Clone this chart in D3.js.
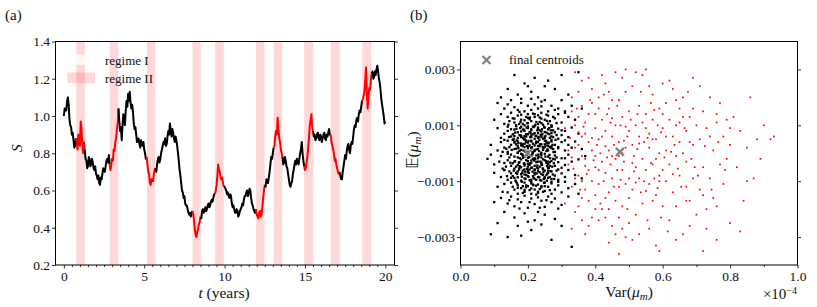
<!DOCTYPE html>
<html>
<head>
<meta charset="utf-8">
<script src="https://cdn.jsdelivr.net/npm/d3@7"></script>
<style>
  body { margin: 0; background: #fff; }
  svg text { fill: #111; }
</style>
</head>
<body>
<svg id="fig" width="817" height="307"></svg>
<script>
/// data ///
// regime II windows (years)
const regimeBands = [[0.77,1.31],[2.85,3.39],[5.17,5.69],[8.0,8.52],[9.41,9.95],
  [11.95,12.49],[13.05,13.59],[14.95,15.51],[16.6,17.16],[18.57,19.13]];

// price path S(t), [t, S]
const pricePath = [
  [0.0,1.00],[0.05,1.04],[0.1,1.03],[0.15,1.03],[0.2,1.08],[0.25,1.10],[0.3,1.06],[0.35,0.98],[0.4,0.95],[0.45,0.94],
  [0.5,0.90],[0.55,0.91],[0.6,0.87],[0.65,0.83],[0.7,0.84],[0.75,0.88],[0.8,0.86],[0.85,0.82],[0.9,0.90],[0.95,0.86],
  [1.0,0.84],[1.05,0.97],[1.1,0.93],[1.15,0.84],[1.2,0.80],[1.25,0.86],[1.3,0.82],[1.35,0.77],[1.4,0.76],[1.45,0.72],
  [1.5,0.73],[1.55,0.78],[1.6,0.77],[1.65,0.73],[1.7,0.74],[1.75,0.77],[1.8,0.75],[1.85,0.72],[1.9,0.71],[1.95,0.73],
  [2.0,0.69],[2.05,0.68],[2.1,0.66],[2.15,0.68],[2.2,0.64],[2.25,0.63],[2.3,0.67],[2.35,0.66],[2.4,0.69],[2.45,0.72],
  [2.5,0.71],[2.55,0.70],[2.6,0.73],[2.65,0.76],[2.7,0.77],[2.75,0.75],[2.8,0.79],[2.85,0.74],[2.9,0.71],[2.95,0.74],
  [3.0,0.77],[3.05,0.76],[3.1,0.82],[3.15,0.81],[3.2,0.86],[3.25,0.88],[3.3,0.93],[3.35,0.96],[3.4,1.04],[3.45,0.97],
  [3.5,0.92],[3.55,0.94],[3.6,0.87],[3.65,0.95],[3.7,1.01],[3.75,0.97],[3.8,0.95],[3.85,1.03],[3.9,1.08],[3.95,1.05],
  [4.0,1.12],[4.05,1.08],[4.1,1.13],[4.15,1.07],[4.2,1.04],[4.25,1.06],[4.3,1.02],[4.35,0.96],[4.4,0.93],[4.45,0.94],
  [4.5,0.90],[4.55,0.86],[4.6,0.87],[4.65,0.88],[4.7,0.85],[4.75,0.83],[4.8,0.87],[4.85,0.85],[4.9,0.84],[4.95,0.86],
  [5.0,0.82],[5.05,0.80],[5.1,0.77],[5.15,0.78],[5.2,0.74],[5.25,0.70],[5.3,0.69],[5.35,0.64],[5.4,0.63],[5.45,0.66],
  [5.5,0.66],[5.55,0.65],[5.6,0.69],[5.65,0.71],[5.7,0.72],[5.75,0.70],[5.8,0.74],[5.85,0.77],[5.9,0.78],[5.95,0.75],
  [6.0,0.77],[6.05,0.80],[6.1,0.82],[6.15,0.84],[6.2,0.86],[6.25,0.85],[6.3,0.88],[6.35,0.84],[6.4,0.85],[6.45,0.89],
  [6.5,0.92],[6.55,0.90],[6.6,0.96],[6.65,0.92],[6.7,0.89],[6.75,0.93],[6.8,0.91],[6.85,0.88],[6.9,0.86],[6.95,0.89],
  [7.0,0.87],[7.05,0.84],[7.1,0.80],[7.15,0.76],[7.2,0.71],[7.25,0.68],[7.3,0.64],[7.35,0.60],[7.4,0.59],[7.45,0.56],
  [7.5,0.57],[7.55,0.53],[7.6,0.52],[7.65,0.52],[7.7,0.50],[7.75,0.48],[7.8,0.47],[7.85,0.48],[7.9,0.46],[7.95,0.48],
  [8.0,0.49],[8.05,0.47],[8.1,0.44],[8.15,0.39],[8.2,0.36],[8.25,0.35],[8.3,0.38],[8.35,0.39],[8.4,0.42],[8.45,0.43],
  [8.5,0.46],[8.55,0.45],[8.6,0.49],[8.65,0.50],[8.7,0.48],[8.75,0.49],[8.8,0.51],[8.85,0.49],[8.9,0.50],[8.95,0.52],
  [9.0,0.53],[9.05,0.51],[9.1,0.52],[9.15,0.54],[9.2,0.55],[9.25,0.54],[9.3,0.56],[9.35,0.58],[9.4,0.58],[9.45,0.60],
  [9.5,0.63],[9.55,0.68],[9.6,0.74],[9.65,0.71],[9.7,0.70],[9.75,0.67],[9.8,0.66],[9.85,0.67],[9.9,0.64],[9.95,0.62],
  [10.0,0.62],[10.05,0.61],[10.1,0.60],[10.15,0.58],[10.2,0.59],[10.25,0.57],[10.3,0.56],[10.35,0.58],[10.4,0.57],[10.45,0.53],
  [10.5,0.51],[10.55,0.52],[10.6,0.50],[10.65,0.48],[10.7,0.48],[10.75,0.50],[10.8,0.49],[10.85,0.46],[10.9,0.47],[10.95,0.49],
  [11.0,0.50],[11.05,0.51],[11.1,0.53],[11.15,0.52],[11.2,0.55],[11.25,0.57],[11.3,0.57],[11.35,0.59],[11.4,0.60],[11.45,0.57],
  [11.5,0.58],[11.55,0.61],[11.6,0.60],[11.65,0.56],[11.7,0.53],[11.75,0.52],[11.8,0.50],[11.85,0.49],[11.9,0.48],[11.95,0.50],
  [12.0,0.47],[12.05,0.46],[12.1,0.45],[12.15,0.48],[12.2,0.49],[12.25,0.46],[12.3,0.47],[12.35,0.51],[12.4,0.56],[12.45,0.60],
  [12.5,0.63],[12.55,0.62],[12.6,0.66],[12.65,0.65],[12.7,0.64],[12.75,0.67],[12.8,0.70],[12.85,0.74],[12.9,0.78],[12.95,0.77],
  [13.0,0.80],[13.05,0.83],[13.1,0.84],[13.15,0.89],[13.2,0.92],[13.25,0.90],[13.3,0.99],[13.35,0.93],[13.4,0.88],[13.45,0.86],
  [13.5,0.82],[13.55,0.80],[13.6,0.78],[13.65,0.74],[13.7,0.75],[13.75,0.78],[13.8,0.76],[13.85,0.73],[13.9,0.72],[13.95,0.69],
  [14.0,0.66],[14.05,0.63],[14.1,0.62],[14.15,0.64],[14.2,0.65],[14.25,0.69],[14.3,0.71],[14.35,0.74],[14.4,0.76],[14.45,0.74],
  [14.5,0.77],[14.55,0.75],[14.6,0.74],[14.65,0.77],[14.7,0.80],[14.75,0.82],[14.8,0.86],[14.85,0.80],[14.9,0.76],[14.95,0.73],
  [15.0,0.71],[15.05,0.72],[15.1,0.75],[15.15,0.78],[15.2,0.83],[15.25,0.88],[15.3,0.95],[15.35,0.98],[15.4,1.01],[15.45,0.94],
  [15.5,0.92],[15.55,0.89],[15.6,0.90],[15.65,0.87],[15.7,0.88],[15.75,0.90],[15.8,0.91],[15.85,0.88],[15.9,0.87],[15.95,0.90],
  [16.0,0.89],[16.05,0.86],[16.1,0.88],[16.15,0.90],[16.2,0.91],[16.25,0.88],[16.3,0.87],[16.35,0.90],[16.4,0.89],[16.45,0.91],
  [16.5,0.93],[16.55,0.90],[16.6,0.90],[16.65,0.86],[16.7,0.84],[16.75,0.82],[16.8,0.80],[16.85,0.76],[16.9,0.77],[16.95,0.74],
  [17.0,0.72],[17.05,0.70],[17.1,0.69],[17.15,0.70],[17.2,0.68],[17.25,0.66],[17.3,0.66],[17.35,0.70],[17.4,0.73],[17.45,0.76],
  [17.5,0.79],[17.55,0.77],[17.6,0.81],[17.65,0.84],[17.7,0.85],[17.75,0.82],[17.8,0.80],[17.85,0.84],[17.9,0.86],[17.95,0.85],
  [18.0,0.89],[18.05,0.93],[18.1,0.95],[18.15,0.94],[18.2,0.98],[18.25,0.99],[18.3,0.97],[18.35,1.01],[18.4,1.03],[18.45,1.02],
  [18.5,1.05],[18.55,1.08],[18.6,1.09],[18.65,1.11],[18.7,1.13],[18.75,1.19],[18.8,1.26],[18.85,1.12],[18.9,1.04],[18.95,1.10],
  [19.0,1.15],[19.05,1.14],[19.1,1.19],[19.15,1.23],[19.2,1.24],[19.25,1.20],[19.3,1.21],[19.35,1.24],[19.4,1.22],[19.45,1.25],
  [19.5,1.27],[19.55,1.24],[19.6,1.20],[19.65,1.18],[19.7,1.14],[19.75,1.09],[19.8,1.06],[19.85,1.03],[19.9,1.00],[19.95,0.96],
  [20.0,0.97]
];

// panel (b): [Var (x1e-4), mean (x1e-3)] per window, cluster I (black)
const clusterOne = [
  [0.16,2.8],[0.22,2.7],[0.30,2.8],[0.19,2.5],[0.25,2.4],[0.14,2.3],[0.21,2.2],[0.28,2.3],[0.17,2.1],[0.23,2.0],[0.32,2.1],[0.12,2.0],[0.26,2.6],[0.20,2.4],[0.35,2.9],
  [0.15,1.9],[0.18,1.8],[0.21,1.95],[0.24,1.85],[0.27,1.7],[0.30,1.9],[0.13,1.6],[0.17,1.55],[0.20,1.7],[0.23,1.6],[0.26,1.5],[0.29,1.6],[0.33,1.7],[0.11,1.8],[0.19,1.5],[0.22,1.75],[0.16,1.65],[0.25,1.9],[0.28,1.55],[0.14,1.75],[0.31,1.5],[0.21,1.55],[0.18,1.95],[0.24,1.68],[0.36,1.6],
  [0.12,1.4],[0.14,1.3],[0.15,1.45],[0.16,1.1],[0.17,1.35],[0.18,1.2],[0.19,1.0],[0.20,1.4],[0.21,1.15],[0.22,1.3],[0.23,1.05],[0.24,1.45],[0.25,1.2],[0.26,1.35],[0.27,1.0],[0.28,1.25],[0.29,1.4],[0.30,1.1],[0.32,1.3],[0.34,1.2],[0.10,1.2],[0.13,1.05],[0.155,1.25],[0.175,1.48],[0.185,1.05],[0.195,1.3],[0.205,1.22],[0.215,1.42],[0.225,1.12],[0.235,1.28],[0.245,1.02],[0.255,1.38],[0.265,1.15],[0.275,1.3],[0.285,1.08],[0.31,1.45],[0.165,1.0],[0.145,1.15],[0.2,1.08],[0.23,1.36],
  [0.11,0.9],[0.13,0.7],[0.14,0.95],[0.15,0.6],[0.16,0.85],[0.17,0.55],[0.17,0.75],[0.18,0.95],[0.18,0.62],[0.19,0.8],[0.19,0.52],[0.20,0.9],[0.20,0.68],[0.21,0.58],[0.21,0.82],[0.22,0.98],[0.22,0.72],[0.23,0.55],[0.23,0.88],[0.24,0.65],[0.24,0.78],[0.25,0.92],[0.25,0.58],[0.26,0.7],[0.26,0.85],[0.27,0.6],[0.27,0.95],[0.28,0.75],[0.29,0.52],[0.29,0.88],[0.30,0.65],[0.31,0.8],[0.32,0.58],[0.33,0.92],[0.35,0.7],[0.12,0.55],[0.14,0.8],[0.155,0.68],[0.165,0.98],[0.175,0.65],[0.185,0.85],[0.195,0.6],[0.205,0.76],[0.215,0.95],[0.225,0.62],[0.235,0.82],[0.245,0.52],[0.255,0.74],[0.265,0.55],[0.275,0.82],[0.285,0.65],
  [0.09,0.3],[0.11,0.1],[0.12,0.4],[0.13,0.2],[0.14,0.45],[0.14,0.05],[0.15,0.3],[0.16,0.15],[0.16,0.42],[0.17,0.25],[0.17,0.02],[0.18,0.35],[0.18,0.12],[0.19,0.48],[0.19,0.22],[0.20,0.05],[0.20,0.38],[0.21,0.18],[0.21,0.45],[0.22,0.28],[0.22,0.08],[0.23,0.4],[0.23,0.15],[0.24,0.32],[0.24,0.02],[0.25,0.45],[0.25,0.22],[0.26,0.1],[0.26,0.35],[0.27,0.25],[0.27,0.48],[0.28,0.05],[0.28,0.3],[0.29,0.18],[0.30,0.4],[0.31,0.1],[0.32,0.3],[0.33,0.2],[0.34,0.42],[0.36,0.15],[0.155,0.48],[0.165,0.32],[0.175,0.08],[0.185,0.25],[0.195,0.4],[0.205,0.28],[0.215,0.02],[0.225,0.42],[0.235,0.25],[0.245,0.12],[0.255,0.38],[0.265,0.22],[0.275,0.15],[0.145,0.22],[0.125,0.05],
  [0.08,-0.2],[0.10,-0.4],[0.12,-0.1],[0.13,-0.35],[0.14,-0.25],[0.15,-0.45],[0.15,-0.05],[0.16,-0.3],[0.17,-0.15],[0.17,-0.42],[0.18,-0.22],[0.18,-0.02],[0.19,-0.38],[0.19,-0.12],[0.20,-0.28],[0.20,-0.48],[0.21,-0.08],[0.21,-0.35],[0.22,-0.18],[0.22,-0.45],[0.23,-0.05],[0.23,-0.3],[0.24,-0.15],[0.24,-0.4],[0.25,-0.25],[0.25,-0.02],[0.26,-0.38],[0.26,-0.12],[0.27,-0.28],[0.28,-0.45],[0.28,-0.08],[0.29,-0.32],[0.30,-0.18],[0.31,-0.42],[0.32,-0.05],[0.33,-0.3],[0.35,-0.22],[0.37,-0.1],[0.165,-0.48],[0.175,-0.32],[0.185,-0.1],[0.195,-0.25],[0.205,-0.42],[0.215,-0.2],[0.225,-0.32],[0.235,-0.48],[0.245,-0.22],[0.255,-0.35],[0.265,-0.45],[0.275,-0.2],[0.285,-0.15],[0.145,-0.15],[0.135,-0.48],[0.115,-0.3],[0.09,-0.05],
  [0.10,-0.7],[0.12,-0.85],[0.13,-0.6],[0.14,-0.95],[0.15,-0.72],[0.16,-0.55],[0.16,-0.88],[0.17,-0.65],[0.18,-0.98],[0.18,-0.75],[0.19,-0.58],[0.19,-0.9],[0.20,-0.68],[0.20,-0.82],[0.21,-0.52],[0.21,-0.95],[0.22,-0.7],[0.22,-0.6],[0.23,-0.85],[0.23,-0.55],[0.24,-0.75],[0.24,-0.98],[0.25,-0.62],[0.25,-0.88],[0.26,-0.7],[0.26,-0.52],[0.27,-0.92],[0.27,-0.65],[0.28,-0.8],[0.29,-0.58],[0.29,-0.95],[0.30,-0.72],[0.31,-0.85],[0.32,-0.6],[0.34,-0.78],[0.36,-0.9],[0.145,-0.65],[0.155,-0.82],[0.165,-0.7],[0.175,-0.52],[0.185,-0.62],[0.195,-0.78],[0.205,-0.58],[0.215,-0.82],[0.225,-0.95],[0.235,-0.68],[0.245,-0.58],[0.255,-0.78],[0.265,-0.85],[0.125,-0.55],
  [0.11,-1.2],[0.13,-1.1],[0.14,-1.4],[0.15,-1.05],[0.16,-1.3],[0.17,-1.15],[0.17,-1.45],[0.18,-1.25],[0.19,-1.05],[0.19,-1.38],[0.20,-1.18],[0.21,-1.45],[0.21,-1.02],[0.22,-1.3],[0.23,-1.12],[0.23,-1.42],[0.24,-1.22],[0.25,-1.05],[0.25,-1.35],[0.26,-1.2],[0.27,-1.45],[0.27,-1.08],[0.28,-1.3],[0.29,-1.15],[0.30,-1.4],[0.31,-1.02],[0.32,-1.25],[0.34,-1.1],[0.155,-1.2],[0.165,-1.02],[0.185,-1.42],[0.195,-1.15],[0.205,-1.32],[0.215,-1.12],[0.225,-1.48],[0.235,-1.28],[0.245,-1.38],[0.265,-1.32],[0.125,-1.38],[0.35,-1.45],
  [0.12,-1.6],[0.14,-1.8],[0.15,-1.55],[0.16,-1.9],[0.17,-1.65],[0.18,-1.75],[0.19,-1.52],[0.20,-1.95],[0.21,-1.62],[0.22,-1.82],[0.23,-1.58],[0.24,-1.7],[0.25,-1.92],[0.26,-1.55],[0.27,-1.75],[0.28,-1.62],[0.30,-1.85],[0.32,-1.55],[0.10,-1.75],[0.175,-1.98],[0.205,-1.75],[0.235,-1.95],[0.255,-1.68],[0.29,-1.98],[0.145,-1.68],
  [0.13,-2.1],[0.16,-2.3],[0.19,-2.15],[0.22,-2.4],[0.25,-2.2],[0.28,-2.35],[0.11,-2.5],[0.17,-2.6],[0.21,-2.75],[0.24,-2.55],[0.30,-2.6],[0.09,-2.9],[0.14,-3.0],[0.18,-2.95],[0.27,-3.1],[0.33,-3.35],[0.23,-2.1],[0.20,-2.45],
  // dense core
  [0.152,0.12],[0.158,-0.62],[0.162,0.74],[0.168,-1.08],[0.172,0.36],[0.176,-0.18],[0.178,1.12],[0.182,-0.84],[0.186,0.54],[0.188,-0.36],[0.192,0.06],[0.194,-1.22],[0.196,0.92],[0.198,-0.56],[0.202,0.44],[0.204,-0.14],[0.206,1.28],[0.208,-0.98],[0.212,0.22],[0.214,-0.66],[0.216,0.68],[0.218,-0.26],[0.222,1.02],[0.224,-1.16],[0.226,0.14],[0.228,-0.44],[0.232,0.58],[0.234,-0.86],[0.236,0.32],[0.238,-0.02],[0.242,0.86],[0.244,-0.54],[0.246,0.18],[0.248,-1.06],[0.252,0.62],[0.254,-0.28],[0.256,1.16],[0.258,-0.72],[0.262,0.38],[0.264,-0.06],[0.268,0.82],[0.272,-0.48],[0.276,0.04],[0.278,-0.92],[0.282,0.48],[0.148,-0.34],[0.144,0.58],[0.138,-0.82],[0.142,1.02],[0.136,0.16],
  [0.17,0.42],[0.174,-0.58],[0.18,0.78],[0.184,-0.04],[0.19,1.18],[0.2,-0.62],[0.21,0.64],[0.22,-0.92],[0.23,0.26],[0.24,-0.34],[0.25,0.76],[0.26,-0.62],[0.27,0.42],[0.28,-0.22],[0.19,-0.76],[0.2,0.18],[0.21,-0.26],[0.22,0.52],[0.23,-0.64],[0.24,1.08],[0.18,0.28],[0.19,-0.44],[0.2,0.96],[0.21,-1.08],[0.22,0.12],[0.23,-0.18],[0.24,0.58],[0.25,-0.86],[0.26,0.26],[0.16,0.38],[0.16,-0.12],[0.17,-0.86],[0.18,0.58],[0.19,0.34],[0.2,-0.38],[0.21,0.86],[0.22,-0.58],[0.23,0.72],[0.24,-1.18],[0.25,0.32],[0.26,-0.88],[0.27,0.72],[0.15,0.86],[0.15,-0.88],[0.165,0.16],[0.185,-1.18],[0.195,0.68],[0.205,-0.96],[0.215,0.34],[0.225,-0.08],[0.235,1.12],[0.245,-0.78],[0.255,0.08],[0.265,-0.32],[0.275,0.58],[0.285,-0.62],[0.29,0.22],[0.3,-0.52],[0.3,0.82],[0.31,-0.18],[0.31,0.46],[0.29,-1.02],[0.14,-0.02],[0.13,0.48],[0.13,-0.6],
  [0.158,0.52],[0.162,-0.28],[0.166,0.88],[0.168,-0.74],[0.172,0.18],[0.174,1.05],[0.176,-0.46],[0.178,0.64],[0.182,-1.02],[0.184,0.32],[0.186,-0.16],[0.188,0.84],[0.192,-0.66],[0.194,0.46],[0.196,-0.06],[0.198,1.08],[0.202,-0.84],[0.204,0.26],[0.206,-0.36],[0.208,0.72],[0.212,-0.52],[0.214,0.04],[0.216,-1.14],[0.218,0.94],[0.222,-0.22],[0.224,0.36],[0.226,-0.72],[0.228,0.82],[0.232,-0.12],[0.234,0.48],[0.236,-0.96],[0.238,0.66],[0.242,-0.42],[0.244,0.22],[0.246,-0.68],[0.248,0.94],[0.252,-0.12],[0.254,0.44],[0.256,-0.98],[0.258,0.14],[0.262,-0.52],[0.264,0.68],[0.266,-0.18],[0.27,0.96],[0.274,-0.76],
  [0.16,1.24],[0.17,-1.24],[0.18,1.38],[0.19,-1.32],[0.2,1.26],[0.21,-1.26],[0.22,1.4],[0.23,-1.38],[0.24,1.24],[0.25,-1.18],[0.26,1.06],[0.27,-1.02],[0.17,0.02],[0.18,-0.5],[0.19,0.62],[0.2,-0.16],[0.21,0.42],[0.22,-0.76],[0.23,0.92],[0.24,-0.06],[0.25,0.54],[0.26,-0.3],[0.27,0.18],
  [0.155,-0.36],[0.16,0.62],[0.163,-0.98],[0.167,0.46],[0.173,-0.34],[0.177,0.9],[0.183,-0.7],[0.187,0.1],[0.193,-0.92],[0.197,0.26],[0.203,-0.7],[0.207,0.58],[0.213,-0.04],[0.217,-0.88],[0.223,0.62],[0.227,-0.52],[0.233,0.08],[0.237,-0.3],[0.243,0.68],[0.247,-0.92],[0.253,0.28],[0.257,-0.46],[0.263,0.9],[0.267,-0.64],[0.273,0.3],[0.277,-0.36]
];

// cluster II (red)
const clusterTwo = [
  [0.31,0.9],[0.32,-0.4],[0.33,1.5],[0.33,-1.2],[0.34,0.2],[0.34,-2.1],[0.35,2.2],[0.35,-0.8],[0.36,0.6],[0.36,-1.6],[0.37,1.1],[0.37,-0.2],[0.38,2.7],[0.38,-2.6],[0.38,0.4],[0.39,-1.0],[0.39,1.8],[0.40,-0.5],[0.40,0.9],[0.32,0.1],[0.33,2.0],[0.34,-0.9],[0.35,1.3],[0.35,-1.9],[0.36,-0.1],[0.36,2.6],[0.37,-1.3],[0.37,0.7],[0.38,-0.6],[0.39,0.1],[0.39,-2.3],[0.40,1.4],[0.40,-1.5],[0.31,-1.8],[0.34,1.0],[0.36,1.7],[0.37,-2.9],[0.38,1.4],[0.39,2.3],[0.40,-0.1],[0.33,-2.7],[0.35,0.3],[0.38,-1.7],[0.34,2.9],[0.36,-2.4],
  [0.41,0.5],[0.41,-1.1],[0.41,2.0],[0.42,-0.3],[0.42,1.2],[0.42,-2.0],[0.43,0.8],[0.43,-0.7],[0.43,2.5],[0.44,-1.4],[0.44,0.1],[0.44,1.6],[0.45,-0.9],[0.45,0.6],[0.45,-2.6],[0.46,1.0],[0.46,-0.2],[0.46,2.9],[0.47,-1.2],[0.47,0.4],[0.47,1.9],[0.48,-0.6],[0.48,1.3],[0.48,-1.9],[0.49,0.2],[0.49,-3.0],[0.49,2.2],[0.50,-0.9],[0.50,0.8],[0.50,-1.6],[0.41,-2.4],[0.42,2.8],[0.43,-1.6],[0.44,-3.2],[0.45,1.9],[0.46,-1.7],[0.47,-2.3],[0.48,0.0],[0.49,-1.1],[0.50,1.5],[0.415,0.0],[0.425,-1.0],[0.435,1.4],[0.445,-0.4],[0.455,0.3],[0.465,-0.6],[0.475,1.0],[0.485,-0.3],[0.495,0.6],[0.44,2.2],[0.47,-3.6],[0.46,-2.9],[0.43,-2.3],[0.41,1.6],[0.48,2.7],[0.50,-2.5],[0.49,3.0],[0.45,-0.1],[0.42,0.6],
  [0.51,0.3],[0.51,-1.3],[0.51,2.4],[0.52,-0.5],[0.52,1.0],[0.52,-2.2],[0.53,0.6],[0.53,-0.9],[0.53,1.7],[0.54,-0.2],[0.54,-1.8],[0.54,2.8],[0.55,0.9],[0.55,-0.6],[0.55,1.4],[0.56,-1.1],[0.56,0.2],[0.56,-2.7],[0.57,1.2],[0.57,-0.4],[0.57,2.1],[0.58,-1.5],[0.58,0.5],[0.58,-3.3],[0.59,1.6],[0.59,-0.8],[0.59,0.0],[0.60,-1.9],[0.60,0.9],[0.60,2.5],[0.515,-0.1],[0.525,1.4],[0.535,-1.4],[0.545,0.4],[0.555,-2.4],[0.565,1.8],[0.575,-0.9],[0.585,1.0],[0.595,-2.3],[0.53,-2.9],[0.55,3.0],[0.57,-1.7],[0.52,2.9],[0.56,0.7],[0.58,-0.2],[0.54,1.1],[0.59,-3.5],[0.51,-3.1],
  [0.61,0.1],[0.61,-1.0],[0.61,1.8],[0.62,-0.4],[0.62,1.2],[0.62,-2.4],[0.63,0.6],[0.63,-1.4],[0.63,2.3],[0.64,-0.1],[0.64,1.0],[0.64,-1.9],[0.65,0.4],[0.65,-0.8],[0.65,1.6],[0.66,-2.9],[0.66,0.0],[0.66,2.0],[0.67,-1.2],[0.67,0.8],[0.67,-0.3],[0.68,1.3],[0.68,-1.7],[0.69,0.3],[0.69,2.7],[0.69,-0.9],[0.70,-2.2],[0.70,1.0],[0.615,-2.8],[0.635,0.3],[0.655,-1.2],[0.675,2.2],[0.695,-0.5],[0.62,2.6],[0.64,-3.1],[0.66,1.3],[0.68,-2.6],[0.60,-0.6],
  [0.71,0.5],[0.71,-1.3],[0.72,1.5],[0.72,-0.5],[0.73,-2.0],[0.73,0.9],[0.74,-0.9],[0.74,2.0],[0.75,0.1],[0.75,-1.6],[0.76,1.1],[0.76,-3.1],[0.77,-0.4],[0.77,1.8],[0.78,0.6],[0.78,-1.1],[0.79,-0.2],[0.79,1.2],[0.80,0.3],[0.80,-2.5],[0.72,-3.5],[0.74,0.6],[0.76,-1.9],[0.71,2.4],[0.73,-2.7],
  [0.81,1.3],[0.82,-0.5],[0.83,0.8],[0.84,-1.7],[0.85,0.2],[0.86,2.0],[0.87,-0.9],[0.88,0.5],[0.90,1.0],[0.92,0.5],[0.83,-2.8],[0.89,-0.2],
  [0.325,0.55],[0.335,-0.55],[0.345,1.6],[0.355,-1.3],[0.365,0.95],[0.375,-0.75],[0.385,1.9],[0.395,-0.25],[0.405,0.3],[0.415,-1.8],[0.425,2.1],[0.435,-0.15],[0.445,1.1],[0.455,-1.2],[0.465,1.7],[0.475,-0.95],[0.485,0.45],[0.495,-2.0],[0.505,1.2],[0.515,-0.65],[0.525,0.15],[0.535,2.2],[0.545,-1.0],[0.555,0.55],[0.565,-0.35],[0.575,1.55],[0.585,-1.25],[0.595,0.75],[0.605,-0.15],[0.625,0.05],[0.645,-0.55],[0.665,0.9],[0.685,-0.2],[0.705,-0.8],[0.725,0.25],[0.745,-1.3],[0.765,0.4],[0.785,-0.6],
  [0.33,-0.15],[0.35,0.75],[0.37,-0.45],[0.39,0.55],[0.41,-0.6],[0.43,0.25],[0.45,1.25],[0.47,-0.1],[0.49,0.95],[0.51,-0.35],[0.53,0.35],[0.55,-1.35],[0.57,0.5],[0.59,-1.0],[0.61,0.6],[0.63,-0.75],[0.65,1.1],[0.67,-1.7],[0.69,1.6],[0.36,-1.0],[0.4,-2.0],[0.44,-2.0],[0.48,-2.7],[0.52,-1.05],[0.56,2.4],[0.6,1.4],[0.64,1.9],[0.68,0.4],[0.72,-1.5],[0.76,1.4],[0.8,0.9],[0.85,-1.0],[0.93,0.6]
];

// k-means final centroids
const centroids = [[0.20, 0.0], [0.473, 0.05]];

// ticks
const sTicks = [0.2, 0.4, 0.6, 0.8, 1.0, 1.2, 1.4];
const tTicks = [0, 5, 10, 15, 20];
const tMinor = [0.5,1,1.5,2,2.5,3,3.5,4,4.5,5.5,6,6.5,7,7.5,8,8.5,9,9.5,10.5,11,11.5,12,12.5,13,13.5,14,14.5,15.5,16,16.5,17,17.5,18,18.5,19,19.5];
const varTicks = [0.0, 0.2, 0.4, 0.6, 0.8, 1.0];
const varMinor = [0.1, 0.3, 0.5, 0.7, 0.9];
const meanTicks = [-3, -1, 1, 3];

/// layout ///
const serif = '"Liberation Serif", serif';
const panelA = {l: 55.5, r: 394.5, t: 41.5, b: 265};
const panelB = {l: 460.5, r: 797.5, t: 41.5, b: 265};
const bandColour = "#ff0000";
const svg = d3.select("#fig");

/// panel (a) ///
const xA = d3.scaleLinear().domain([-0.52, 20.57]).range([panelA.l, panelA.r]);
const yA = d3.scaleLinear().domain([0.2, 1.4]).range([panelA.b, panelA.t]);

const gA = svg.append("g");

// regime II shading
gA.selectAll(".band")
  .data(regimeBands)
  .join("rect")
    .attr("x", d => xA(d[0]))
    .attr("width", d => xA(d[1]) - xA(d[0]))
    .attr("y", panelA.t)
    .attr("height", panelA.b - panelA.t)
    .attr("fill", bandColour)
    .attr("fill-opacity", 0.15);

// split the path into black / red runs by regime
const inBand = t => regimeBands.some(b => t >= b[0] && t <= b[1]);
const runs = [];
for (let i = 0; i < pricePath.length - 1; i++) {
  const red = inBand((pricePath[i][0] + pricePath[i + 1][0]) / 2);
  const last = runs[runs.length - 1];
  if (last && last.red === red) last.pts.push(pricePath[i + 1]);
  else runs.push({red, pts: [pricePath[i], pricePath[i + 1]]});
}
const line = d3.line().x(d => xA(d[0])).y(d => yA(d[1]));
gA.selectAll(".run")
  .data(runs)
  .join("path")
    .attr("d", d => line(d.pts))
    .attr("fill", "none")
    .attr("stroke", d => d.red ? "#ff0000" : "#000")
    .attr("stroke-width", 2)
    .attr("stroke-linejoin", "round");

// axes
function styleAxis(g) {
  g.attr("font-family", null).attr("font-size", null);
  g.select(".domain").remove();
  g.selectAll(".tick line").attr("stroke", "#000").attr("stroke-width", 0.8);
  g.selectAll(".tick text").style("font-size", "13.5px").style("font-family", serif).attr("fill", "#111");
}
const fmtMinus = s => s.replace("-", "\u2212");

gA.append("g").attr("transform", `translate(${panelA.l},0)`)
  .call(d3.axisLeft(yA).tickValues(sTicks).tickSize(3.5).tickPadding(2).tickFormat(d => d.toFixed(1)))
  .call(styleAxis);
gA.append("g").attr("transform", `translate(${panelA.r},0)`)
  .call(d3.axisRight(yA).tickValues(sTicks).tickSize(3.5).tickFormat(""))
  .call(styleAxis);
gA.append("g").attr("transform", `translate(0,${panelA.b})`)
  .call(d3.axisBottom(xA).tickValues(tMinor).tickSize(2).tickFormat(""))
  .call(styleAxis);
gA.append("g").attr("transform", `translate(0,${panelA.b})`)
  .call(d3.axisBottom(xA).tickValues(tTicks).tickSize(3.5).tickPadding(3).tickFormat(d => d))
  .call(styleAxis);

gA.append("rect")
  .attr("x", panelA.l).attr("y", panelA.t)
  .attr("width", panelA.r - panelA.l).attr("height", panelA.b - panelA.t)
  .attr("fill", "none").attr("stroke", "#000").attr("stroke-width", 1);

// legend (a)
gA.append("rect").attr("x", 67.5).attr("y", 54.5).attr("width", 27.5).attr("height", 10.5)
  .attr("fill", "#fff").attr("fill-opacity", 0.75);
gA.append("rect").attr("x", 67.5).attr("y", 72.5).attr("width", 27.5).attr("height", 10.5)
  .attr("fill", bandColour).attr("fill-opacity", 0.15);
gA.append("text").attr("x", 105).attr("y", 64.5).style("font-size", "13px").style("font-family", serif).text("regime I");
gA.append("text").attr("x", 105).attr("y", 82.5).style("font-size", "13px").style("font-family", serif).text("regime II");

// labels (a)
gA.append("text").attr("x", 224).attr("y", 298).attr("text-anchor", "middle")
  .style("font-size", "15.5px").style("font-family", serif)
  .call(t => { t.append("tspan").attr("font-style", "italic").text("t"); t.append("tspan").text(" (years)"); });
gA.append("text").attr("transform", "translate(22,148) rotate(-90)").attr("text-anchor", "middle")
  .style("font-size", "15.5px").style("font-family", serif).attr("font-style", "italic").text("S");
gA.append("text").attr("x", 5).attr("y", 20).style("font-size", "15px").style("font-family", serif).text("(a)");

/// panel (b) ///
const xB = d3.scaleLinear().domain([0, 1]).range([panelB.l, panelB.r]);
const yB = d3.scaleLinear().domain([-4, 4]).range([panelB.b, panelB.t]);
const gB = svg.append("g");

gB.selectAll(".c1")
  .data(clusterOne)
  .join("rect")
    .attr("x", d => xB(d[0]) - 1.15)
    .attr("y", d => yB(d[1]) - 1.15)
    .attr("width", 2.3).attr("height", 2.3)
    .attr("fill", "#000");
gB.selectAll(".c2")
  .data(clusterTwo)
  .join("rect")
    .attr("x", d => xB(d[0]) - 0.85)
    .attr("y", d => yB(d[1]) - 0.85)
    .attr("width", 1.7).attr("height", 1.7)
    .attr("fill", "#ff0000");

const cross = "M-4,-4L4,4M-4,4L4,-4";
gB.selectAll(".centroid")
  .data(centroids)
  .join("path")
    .attr("transform", d => `translate(${xB(d[0])},${yB(d[1])})`)
    .attr("d", cross)
    .attr("stroke", "#808080")
    .attr("stroke-width", 2.2);

gB.append("g").attr("transform", `translate(${panelB.l},0)`)
  .call(d3.axisLeft(yB).tickValues(meanTicks).tickSize(3.5).tickPadding(2)
    .tickFormat(d => fmtMinus((d / 1000).toFixed(3))))
  .call(styleAxis);
gB.append("g").attr("transform", `translate(${panelB.r},0)`)
  .call(d3.axisRight(yB).tickValues(meanTicks).tickSize(3.5).tickFormat(""))
  .call(styleAxis);
gB.append("g").attr("transform", `translate(0,${panelB.b})`)
  .call(d3.axisBottom(xB).tickValues(varMinor).tickSize(2).tickFormat(""))
  .call(styleAxis);
gB.append("g").attr("transform", `translate(0,${panelB.b})`)
  .call(d3.axisBottom(xB).tickValues(varTicks).tickSize(3.5).tickPadding(3).tickFormat(d => d.toFixed(1)))
  .call(styleAxis);

gB.append("rect")
  .attr("x", panelB.l).attr("y", panelB.t)
  .attr("width", panelB.r - panelB.l).attr("height", panelB.b - panelB.t)
  .attr("fill", "none").attr("stroke", "#000").attr("stroke-width", 1);

// legend (b)
gB.append("path").attr("transform", "translate(486.5,60)").attr("d", cross)
  .attr("stroke", "#808080").attr("stroke-width", 2.2);
gB.append("text").attr("x", 509).attr("y", 64).style("font-size", "13px").style("font-family", serif).text("final centroids");

// labels (b)
gB.append("text").attr("x", 629).attr("y", 297).attr("text-anchor", "middle")
  .style("font-size", "15.5px").style("font-family", serif)
  .call(t => {
    t.append("tspan").text("Var(");
    t.append("tspan").attr("font-style", "italic").text("\u03bc");
    t.append("tspan").attr("font-style", "italic").attr("font-size", "11px").attr("dy", 3).text("m");
    t.append("tspan").attr("dy", -3).text(")");
  });
gB.append("text").attr("x", 797).attr("y", 299).attr("text-anchor", "end")
  .style("font-size", "15px").style("font-family", serif)
  .call(t => {
    t.append("tspan").text("\u00d710");
    t.append("tspan").attr("font-size", "10px").attr("dy", -5).text("\u22124");
  });
gB.append("text").attr("transform", "translate(418,150) rotate(-90)").attr("text-anchor", "middle")
  .style("font-size", "15.5px").style("font-family", serif)
  .call(t => {
    t.append("tspan").style("font-family", '"DejaVu Sans", sans-serif').text("\ud835\udd3c");
    t.append("tspan").text("(");
    t.append("tspan").attr("font-style", "italic").text("\u03bc");
    t.append("tspan").attr("font-style", "italic").attr("font-size", "11px").attr("dy", 3).text("m");
    t.append("tspan").attr("dy", -3).text(")");
  });
gB.append("text").attr("x", 410).attr("y", 20).style("font-size", "15px").style("font-family", serif).text("(b)");
</script>
</body>
</html>
